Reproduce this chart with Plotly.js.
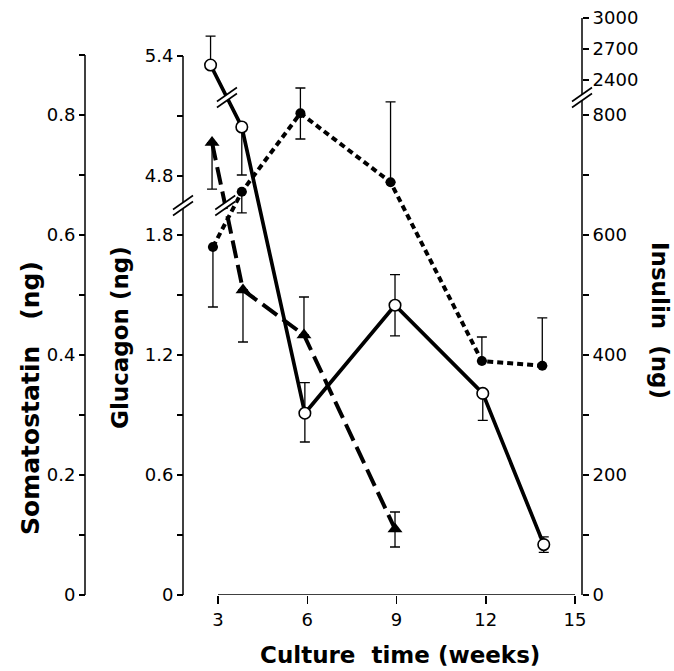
<!DOCTYPE html>
<html><head><meta charset="utf-8">
<script src="https://cdn.plot.ly/plotly-3.0.1.min.js"></script>
<style>html,body{margin:0;padding:0;background:#fff;} #chart{width:674px;height:671px;}</style>
</head><body><div id="chart"></div>
<script>
// ---- data ----
const weeksInsulin = [2.75, 3.8, 5.92, 8.95, 11.9, 13.95];
const insulin = [2545, 780, 303, 483, 336, 84];
const insulinErrPlus = [280, 0, 51, 51, 0, 13];
const insulinErrMinus = [0, 80, 48, 51, 45, 13];

const weeksSomatostatin = [2.83, 3.8, 5.77, 8.8, 11.87, 13.9];
const somatostatin = [0.58, 0.672, 0.803, 0.688, 0.39, 0.382];
const somatostatinErrPlus = [0, 0, 0.042, 0.134, 0.04, 0.08];
const somatostatinErrMinus = [0.10, 0.035, 0.043, 0, 0, 0];

const weeksGlucagon = [2.8, 3.84, 5.89, 8.95];
const glucagon = [4.967, 1.525, 1.30, 0.33];
const glucagonErrPlus = [0, 0, 0.19, 0.085];
const glucagonErrMinus = [0.233, 0.26, 0, 0.09];

const xTicks = [3, 6, 9, 12, 15];
const somatostatinTicks = [0, 0.1, 0.2, 0.3, 0.4, 0.5, 0.6, 0.7, 0.8, 0.9];
const somatostatinLabels = ['0', '', '0.2', '', '0.4', '', '0.6', '', '0.8', ''];
const glucagonTicks = [0, 0.3, 0.6, 0.9, 1.2, 1.5, 1.8, 4.8, 5.1, 5.4];
const glucagonLabels = ['0', '', '0.6', '', '1.2', '', '1.8', '4.8', '', '5.4'];
const insulinTicks = [0, 100, 200, 300, 400, 500, 600, 700, 800, 2400, 2700, 3000];
const insulinLabels = ['0', '', '200', '', '400', '', '600', '', '800', '2400', '2700', '3000'];

// ---- geometry ----
const W = 674, H = 671;
const PXB = 595, PXT = 10;            // plot bottom/top in pixels
const SPAN = PXB - PXT;
const KS = 600, KG = 200, KI = 0.6;   // px per unit on the three axes
// broken-axis transforms (lower part linear, upper part shifted)
const G_LOW_TOP = 1.8, G_UP_BASE = (PXB - 176) / KG;          // where 4.8 sits
function tG(v) { return v <= 3 ? v : G_UP_BASE + (v - 4.8); }
const I_LOW_TOP = 800, I_UP_BASE = (PXB - 80) / KI;           // where 2400 sits
const I_UP_SCALE = (((PXB - 18) / KI) - I_UP_BASE) / 600;
function tI(v) { return v <= 1600 ? v : I_UP_BASE + (v - 2400) * I_UP_SCALE; }

function errs(vals, plus, minus, t) {
  return {
    type: 'data', symmetric: false,
    array: vals.map((v, i) => t(v + plus[i]) - t(v)),
    arrayminus: vals.map((v, i) => t(v) - t(v - minus[i])),
    color: '#000', thickness: 1.3, width: 5
  };
}
const id = v => v;

const traces = [
  {
    x: weeksSomatostatin, y: somatostatin, yaxis: 'y', type: 'scatter', mode: 'lines+markers',
    line: { color: '#000', width: 4, dash: '6px,4px' },
    marker: { symbol: 'circle', size: 10, color: '#000' },
    error_y: errs(somatostatin, somatostatinErrPlus, somatostatinErrMinus, id),
    cliponaxis: false
  },
  {
    x: weeksGlucagon, y: glucagon.map(tG), yaxis: 'y2', type: 'scatter', mode: 'lines+markers',
    line: { color: '#000', width: 4, dash: '18px,7px' },
    marker: { symbol: 'triangle-up', size: 13, color: '#000' },
    error_y: errs(glucagon, glucagonErrPlus, glucagonErrMinus, tG),
    cliponaxis: false
  },
  {
    x: weeksInsulin, y: insulin.map(tI), yaxis: 'y3', type: 'scatter', mode: 'lines+markers',
    line: { color: '#000', width: 3.7 },
    marker: { symbol: 'circle', size: 11.5, color: '#fff', line: { color: '#000', width: 1.6 } },
    error_y: errs(insulin, insulinErrPlus, insulinErrMinus, tI),
    cliponaxis: false
  }
];

const yDomain = [(H - PXB) / H, (H - PXT) / H];
const axCommon = {
  domain: yDomain, anchor: 'free', ticks: 'outside', ticklen: 6, tickwidth: 1.5, tickcolor: '#000',
  showline: false, showgrid: false, zeroline: false, fixedrange: true,
  tickfont: { family: 'DejaVu Sans', size: 18, color: '#000' }
};
const posS = 85 / W, posG = 183 / W, posI = 582 / W;

// axis lines & break marks (decoration)
const shapes = [];
function seg(xref, x0, y0, x1, y1, yref, w, c) {
  shapes.push({ type: 'line', xref: xref, yref: yref, x0: x0, x1: x1, y0: y0, y1: y1,
    line: { color: c || '#000', width: w || 1.5 } });
}
seg('x', 3, 0, 15, 0, 'y');
seg('paper', posS, 0, posS, 0.9, 'y');
seg('paper', posG, 0, posG, tG(5.4), 'y2');
seg('paper', posI, 0, posI, tI(3000), 'y3');

function breakMark(xref, xa, yref, ya) {
  const base = { type: 'line', xref: xref, yref: yref, xsizemode: 'pixel', ysizemode: 'pixel', xanchor: xa, yanchor: ya };
  shapes.push(Object.assign({}, base, { x0: -9, y0: -6.3, x1: 9, y1: 6.3, line: { color: '#fff', width: 5 } }));
  shapes.push(Object.assign({}, base, { x0: -10, y0: -7 + 3, x1: 10, y1: 7 + 3, line: { color: '#000', width: 1.6 } }));
  shapes.push(Object.assign({}, base, { x0: -10, y0: -7 - 3, x1: 10, y1: 7 - 3, line: { color: '#000', width: 1.6 } }));
}
const gGap = (G_LOW_TOP + G_UP_BASE) / 2;
const iGap = (I_LOW_TOP + I_UP_BASE) / 2;
breakMark('paper', posG, 'y2', gGap);
breakMark('paper', posI, 'y3', iGap);
function crossX(xs, ys, t, gap) {
  const a = t(ys[0]), b = t(ys[1]);
  const f = (a - gap) / (a - b);
  return xs[0] + f * (xs[1] - xs[0]);
}
breakMark('x', crossX(weeksInsulin, insulin, tI, iGap), 'y3', iGap);
breakMark('x', crossX(weeksGlucagon, glucagon, tG, gGap), 'y2', gGap);

function ann(text, px, py, angle, size) {
  return { text: text, xref: 'paper', yref: 'paper', x: px / W, y: 1 - py / H,
    xanchor: 'center', yanchor: 'middle', showarrow: false, textangle: angle,
    font: { family: 'DejaVu Sans', size: size || 23, color: '#000', weight: 'bold' } };
}

const layout = {
  width: W, height: H, margin: { l: 0, r: 0, t: 0, b: 0 },
  paper_bgcolor: '#fff', plot_bgcolor: 'rgba(0,0,0,0)', showlegend: false, hovermode: false,
  font: { family: 'DejaVu Sans', size: 18, color: '#000' },
  xaxis: {
    domain: [188.25 / W, 604.75 / W], range: [2, 16], anchor: 'y',
    tickvals: xTicks, ticktext: xTicks.map(String), ticks: 'outside', ticklen: 8, tickwidth: 1.5, tickcolor: '#000',
    showline: false, showgrid: false, zeroline: false, fixedrange: true,
    tickfont: { family: 'DejaVu Sans', size: 18, color: '#000' }
  },
  yaxis: Object.assign({}, axCommon, { position: posS, side: 'left', range: [0, SPAN / KS],
    tickvals: somatostatinTicks, ticktext: somatostatinLabels }),
  yaxis2: Object.assign({}, axCommon, { position: posG, side: 'left', overlaying: 'y', range: [0, SPAN / KG],
    tickvals: glucagonTicks.map(tG), ticktext: glucagonLabels }),
  yaxis3: Object.assign({}, axCommon, { position: posI, side: 'right', overlaying: 'y', range: [0, SPAN / KI],
    tickvals: insulinTicks.map(tI), ticktext: insulinLabels }),
  shapes: shapes,
  annotations: [
    ann('Somatostatin   (ng)', 30, 398, -90, 25),
    ann('Glucagon (ng)', 120, 338, -90),
    ann('Insulin  (ng)', 660, 320, 90),
    ann('Culture  time (weeks)', 400, 655, 0)
  ]
};

Plotly.newPlot('chart', traces, layout, { displayModeBar: false, staticPlot: true });
</script>
</body></html>
